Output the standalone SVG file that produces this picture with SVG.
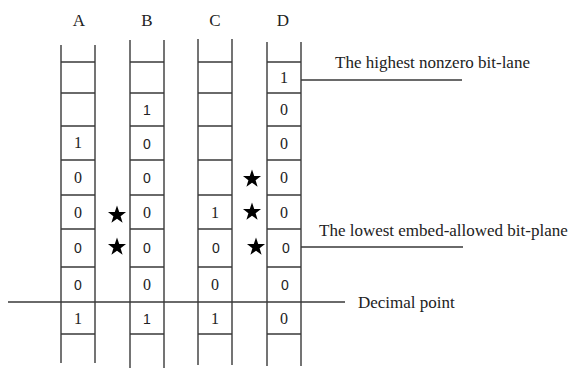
<svg xmlns="http://www.w3.org/2000/svg" xmlns:xlink="http://www.w3.org/1999/xlink" width="571" height="370" viewBox="0 0 571 370">
<defs>
<style>
.ln{stroke:#3a3a3a;stroke-width:1.4;fill:none}
.t{font-family:"Liberation Serif",serif;font-size:16px;fill:#222;text-anchor:middle}
.s{font-family:"Liberation Sans",sans-serif;font-size:14px;fill:#222;text-anchor:middle}
.h{font-family:"Liberation Serif",serif;font-size:17px;fill:#222;text-anchor:middle}
.lab{font-family:"Liberation Serif",serif;font-size:17px;fill:#222}
</style>
<polygon id="star" points="0,-9.5 2.23,-3.07 9.03,-2.94 3.61,1.17 5.58,7.69 0,3.8 -5.58,7.69 -3.61,1.17 -9.03,-2.94 -2.23,-3.07" fill="#000"/>
</defs>
<rect width="571" height="370" fill="#fff"/>
<g id="colA">
<text class="h" x="79" y="26">A</text>
<path class="ln" d="M61,45V363M95,45V363M61,62H95M61,93H95M61,126H95M61,160H95M61,195H95M61,229H95M61,267H95M61,334H95"/>
<text class="t" x="78" y="148">1</text>
<text class="t" x="78" y="183">0</text>
<text class="t" x="78" y="218">0</text>
<text class="s" x="78" y="253">0</text>
<text class="s" x="78" y="290">0</text>
<text class="t" x="78" y="324">1</text>
</g>
<g id="colB">
<text class="h" x="147" y="26">B</text>
<path class="ln" d="M130,40V368M164,40V368M130,62H164M130,93H164M130,126H164M130,160H164M130,195H164M130,229H164M130,267H164M130,334H164"/>
<text class="s" x="147" y="115">1</text>
<text class="s" x="147" y="149">0</text>
<text class="s" x="147" y="183">0</text>
<text class="t" x="147" y="218">0</text>
<text class="s" x="147" y="253">0</text>
<text class="t" x="147" y="290">0</text>
<text class="s" x="147" y="324">1</text>
</g>
<g id="colC">
<text class="h" x="215" y="26">C</text>
<path class="ln" d="M198,39V365M232,39V365M198,62H232M198,93H232M198,126H232M198,160H232M198,195H232M198,229H232M198,267H232M198,334H232"/>
<text class="t" x="215" y="218">1</text>
<text class="s" x="216" y="253">0</text>
<text class="t" x="215" y="290">0</text>
<text class="t" x="215" y="324">1</text>
</g>
<g id="colD">
<text class="h" x="283" y="26">D</text>
<path class="ln" d="M267,42V366M301,42V366M267,62H301M267,93H301M267,126H301M267,160H301M267,195H301M267,229H301M267,267H301M267,334H301"/>
<text class="t" x="284" y="83">1</text>
<text class="t" x="284" y="115">0</text>
<text class="t" x="284" y="149">0</text>
<text class="t" x="284" y="183">0</text>
<text class="t" x="284" y="218">0</text>
<text class="s" x="286" y="253">0</text>
<text class="s" x="285" y="290">0</text>
<text class="t" x="284" y="324">0</text>
</g>
<g id="stars">
<use xlink:href="#star" x="117" y="215"/>
<use xlink:href="#star" x="117" y="247"/>
<use xlink:href="#star" x="252" y="179"/>
<use xlink:href="#star" x="252" y="212"/>
<use xlink:href="#star" x="256" y="247"/>
</g>
<g id="connectors">
<path class="ln" d="M301,80H462M301,247H463M8,302H345"/>
</g>
<g id="labels">
<text class="lab" x="335" y="68">The highest nonzero bit-lane</text>
<text class="lab" x="319" y="236">The lowest embed-allowed bit-plane</text>
<text class="lab" x="358" y="308">Decimal point</text>
</g>
</svg>
